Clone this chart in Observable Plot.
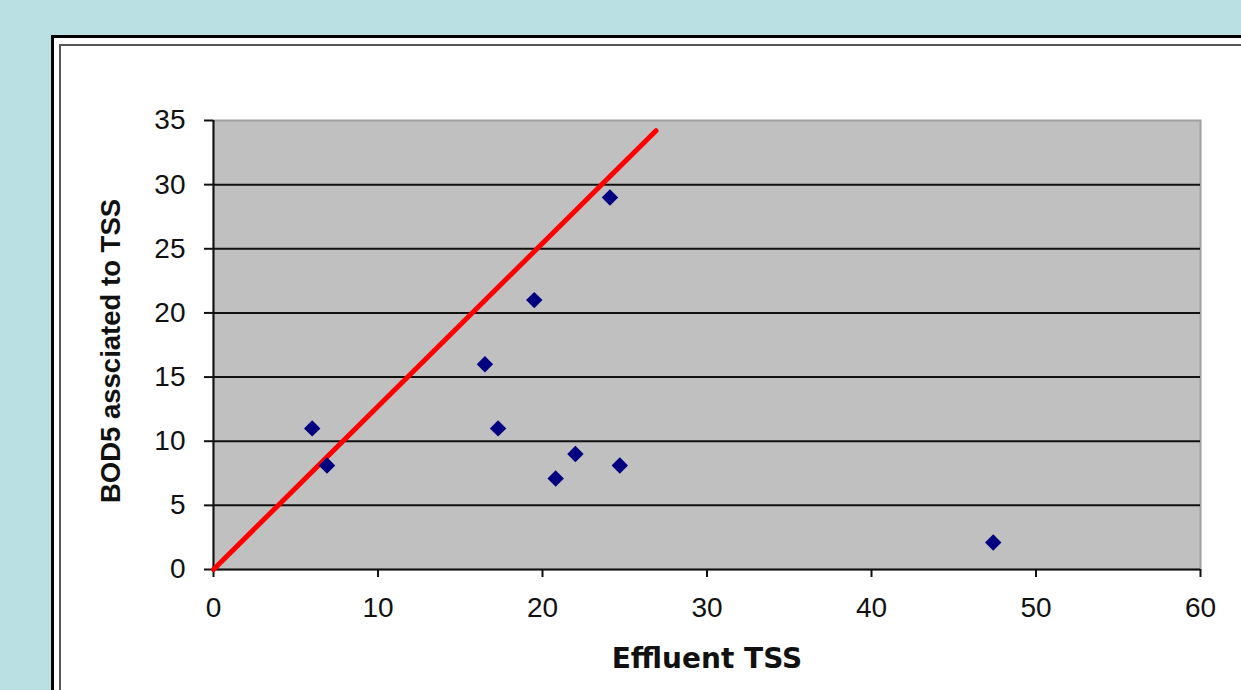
<!DOCTYPE html>
<html>
<head>
<meta charset="utf-8">
<script src="https://cdn.jsdelivr.net/npm/d3@7"></script>
<script src="https://cdn.jsdelivr.net/npm/@observablehq/plot@0.6"></script>
<style>
  html, body { margin: 0; padding: 0; }
  body { width: 1241px; height: 690px; background: #bbe0e3; position: relative; overflow: hidden; }
  #outer { position: absolute; left: 51px; top: 35px; width: 1300px; height: 800px; background: #fff; border: 3px solid #000; box-sizing: border-box; }
  #inner { position: absolute; left: 59px; top: 44px; width: 1300px; height: 800px; border: 2px solid #555; box-sizing: border-box; }
  #chart { position: absolute; left: 0; top: 0; }
</style>
</head>
<body>
<div id="outer"></div>
<div id="inner"></div>
<div id="chart"></div>
<script>
// Data
const tss  = [6.0, 6.9, 16.5, 17.3, 19.5, 20.8, 22.0, 24.1, 24.7, 47.4];
const bod5 = [11, 8.1, 16, 11, 21, 7.1, 9.0, 29, 8.1, 2.1];
const lineX = [0, 26.9];
const lineY = [0, 34.2];
const xTicks = [0, 10, 20, 30, 40, 50, 60];
const yTicks = [0, 5, 10, 15, 20, 25, 30, 35];
const xTitle = "Effluent TSS";
const yTitle = "BOD5 assciated to TSS";

const points = tss.map((x, i) => ({x, y: bod5[i]}));
const linePts = lineX.map((x, i) => ({x, y: lineY[i]}));
const grid = yTicks.filter(v => v > 0 && v < 35);

const chart = Plot.plot({
  width: 1241,
  height: 690,
  marginLeft: 213,
  marginRight: 41,
  marginTop: 120,
  marginBottom: 121,
  style: {background: "transparent", fontFamily: "'Liberation Sans', Arial, sans-serif", color: "#111"},
  x: {domain: [0, 60]},
  y: {domain: [0, 35]},
  marks: [
    Plot.frame({fill: "#c0c0c0", stroke: "#a0a0a0", strokeWidth: 2}),
    Plot.ruleY(grid, {stroke: "#111", strokeWidth: 2}),
    Plot.ruleX([0], {stroke: "#111", strokeWidth: 2}),
    Plot.ruleY([0], {stroke: "#111", strokeWidth: 2}),
    Plot.axisX({ticks: xTicks, tickSize: 8, tickPadding: 20, fontSize: 28, strokeWidth: 2, label: null}),
    Plot.axisY({ticks: yTicks, tickSize: 9, tickPadding: 19, fontSize: 28, strokeWidth: 2, label: null}),
    Plot.line(linePts, {x: "x", y: "y", stroke: "#ff0000", strokeWidth: 5}),
    Plot.dot(points, {x: "x", y: "y", symbol: "diamond2", r: 7.4, fill: "#000080", stroke: "none"}),
    Plot.text([xTitle], {frameAnchor: "bottom", dy: 98, text: d => d, fontFamily: "'DejaVu Sans', sans-serif", fontWeight: "bold", fontSize: 28, fill: "#111"}),
    Plot.text([yTitle], {frameAnchor: "left", textAnchor: "middle", dx: -102, dy: 6, rotate: -90, text: d => d, fontFamily: "'Liberation Sans', Arial, sans-serif", fontWeight: "bold", fontSize: 27.5, fill: "#111"})
  ]
});
document.getElementById("chart").appendChild(chart);
</script>
</body>
</html>
